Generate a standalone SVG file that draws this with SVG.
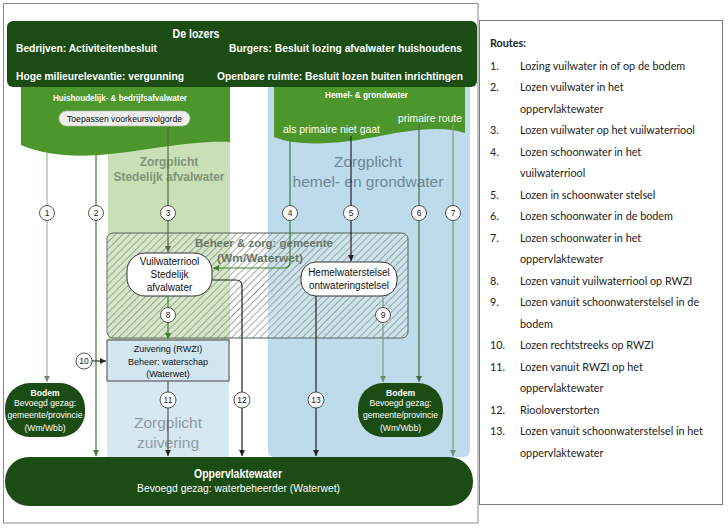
<svg xmlns="http://www.w3.org/2000/svg" width="728" height="528" viewBox="0 0 728 528">
<defs>
<style>
text{font-family:"Liberation Sans",Arial,sans-serif}
.hw{fill:#fff;font-weight:bold;font-size:11px}
.w{fill:#fff}
.lbl{font-size:10px;fill:#111;text-anchor:middle}
.zl{font-size:9px;fill:#111;text-anchor:middle}
.bd{font-size:8.6px;fill:#fff;text-anchor:middle}
.num{font-size:8.5px;fill:#222;text-anchor:middle}
.circ{fill:#fff;stroke:#444;stroke-width:0.9}
.rt{font-family:Lato,"Open Sans",sans-serif;font-size:10.8px;fill:#222}
.ln{fill:none;stroke-width:1.2}
.dk{fill:#1b4c14}
.zp{font-size:15.5px;text-anchor:middle}
</style>
<pattern id="hatch" width="5" height="5" patternUnits="userSpaceOnUse" patternTransform="rotate(45)">
<line x1="2.5" y1="0" x2="2.5" y2="5" stroke="#8c968c" stroke-width="0.8"/>
</pattern>
<marker id="aK" viewBox="0 0 6 6" refX="6" refY="3" markerWidth="6" markerHeight="6" orient="auto" markerUnits="userSpaceOnUse"><path d="M0,0L6,3L0,6z" fill="#222"/></marker>
<marker id="aG" viewBox="0 0 6 6" refX="6" refY="3" markerWidth="6" markerHeight="6" orient="auto" markerUnits="userSpaceOnUse"><path d="M0,0L6,3L0,6z" fill="#3f7f2f"/></marker>
<marker id="aL" viewBox="0 0 6 6" refX="6" refY="3" markerWidth="6" markerHeight="6" orient="auto" markerUnits="userSpaceOnUse"><path d="M0,0L6,3L0,6z" fill="#6f8f68"/></marker>
<marker id="aD" viewBox="0 0 6 6" refX="6" refY="3" markerWidth="6" markerHeight="6" orient="auto" markerUnits="userSpaceOnUse"><path d="M0,0L6,3L0,6z" fill="#4d6b45"/></marker>
</defs>

<rect x="0" y="0" width="728" height="528" fill="#fff"/>
<rect x="3.5" y="3.5" width="474.5" height="519.5" fill="#fff" stroke="#8a8a8a"/>

<!-- background zones -->
<g id="zone-stedelijk">
<rect x="108" y="120" width="122" height="220" fill="#c9dfb6"/>
<text x="169" y="166" font-size="12" font-weight="bold" fill="#80957a" text-anchor="middle">Zorgplicht</text>
<text x="169" y="181" font-size="12" font-weight="bold" fill="#80957a" text-anchor="middle" textLength="111" lengthAdjust="spacingAndGlyphs">Stedelijk afvalwater</text>
</g>
<g id="zone-hemel">
<rect x="268" y="80" width="202" height="377" rx="6" fill="#bddbea"/>
<text class="zp" x="368" y="166.5" fill="#6f8798">Zorgplicht</text>
<text class="zp" x="368" y="186.5" fill="#6f8798">hemel- en grondwater</text>
</g>
<g id="zone-zuivering">
<rect x="107" y="381" width="122" height="76" fill="#d6e9f3"/>
<text class="zp" x="168" y="428" fill="#8c9ba4">Zorgplicht</text>
<text class="zp" x="168" y="448" fill="#8c9ba4">zuivering</text>
</g>

<!-- lozers header -->
<g id="lozers">
<path d="M21,80 H230 V142 C190,140 140,152 100,155 C70,157 45,155 21,145 Z" fill="#4d962c"/>
<path d="M274,80 H465 V133 C445,126 415,129 380,136 C345,143 300,148 274,137 Z" fill="#4d962c"/>
<rect x="7" y="21" width="470" height="66" rx="6" class="dk"/>
<text x="196" y="38" fill="#fff" font-size="13" font-weight="bold" text-anchor="middle" textLength="47" lengthAdjust="spacingAndGlyphs">De lozers</text>
<text class="hw" x="16" y="51.5" textLength="141" lengthAdjust="spacingAndGlyphs">Bedrijven: Activiteitenbesluit</text>
<text class="hw" x="229" y="51.5" textLength="233" lengthAdjust="spacingAndGlyphs">Burgers: Besluit lozing afvalwater huishoudens</text>
<text class="hw" x="16" y="80" textLength="168" lengthAdjust="spacingAndGlyphs">Hoge milieurelevantie: vergunning</text>
<text class="hw" x="217" y="80" textLength="246" lengthAdjust="spacingAndGlyphs">Openbare ruimte: Besluit lozen buiten inrichtingen</text>
<text x="53" y="101" class="w" font-size="9" font-weight="bold" textLength="134" lengthAdjust="spacingAndGlyphs">Huishoudelijk- &amp; bedrijfsafvalwater</text>
<rect x="59" y="111" width="131" height="15" rx="7.5" fill="#eeeeee" stroke="#bbbbbb" stroke-width="0.6"/>
<text x="124.5" y="121.5" font-size="9" fill="#111" text-anchor="middle" textLength="115" lengthAdjust="spacingAndGlyphs">Toepassen voorkeursvolgorde</text>
<text x="366.5" y="97.5" class="w" font-size="9" font-weight="bold" text-anchor="middle" textLength="83" lengthAdjust="spacingAndGlyphs">Hemel- &amp; grondwater</text>
<text x="398" y="121.5" class="w" font-size="10.5" textLength="64" lengthAdjust="spacingAndGlyphs">primaire route</text>
<text x="283" y="133" class="w" font-size="10.5" textLength="97" lengthAdjust="spacingAndGlyphs">als primaire niet gaat</text>
</g>

<!-- beheer gemeente -->
<g id="beheer-gemeente">
<rect x="107" y="233" width="301" height="105" rx="6" fill="#ffffff" fill-opacity="0.25"/>
<rect x="107" y="233" width="301" height="105" rx="6" fill="url(#hatch)" stroke="#56645a" stroke-width="1"/>
<text x="264" y="247" font-size="11.5" font-weight="bold" fill="#6a7666" text-anchor="middle" textLength="138" lengthAdjust="spacingAndGlyphs">Beheer &amp; zorg: gemeente</text>
<text x="260" y="262" font-size="11.5" font-weight="bold" fill="#6a7666" text-anchor="middle" textLength="86" lengthAdjust="spacingAndGlyphs">(Wm/Waterwet)</text>
</g>

<g id="zuivering">
<rect x="107" y="340" width="122" height="41" fill="#d2e6f1" stroke="#444" stroke-width="1"/>
<text class="zl" x="168" y="351.5">Zuivering (RWZI)</text>
<text class="zl" x="168" y="364.5">Beheer: waterschap</text>
<text class="zl" x="168" y="376.5">(Waterwet)</text>
</g>

<g id="vuilwaterriool">
<rect x="127" y="253" width="85" height="43" rx="18" fill="#fff" stroke="#333" stroke-width="1"/>
<text class="lbl" x="169.5" y="264.5">Vuilwaterriool</text>
<text class="lbl" x="169.5" y="277.5">Stedelijk</text>
<text class="lbl" x="169.5" y="290.5">afvalwater</text>
</g>

<g id="hemelwaterstelsel">
<rect x="301" y="262" width="96" height="34" rx="15" fill="#fff" stroke="#333" stroke-width="1"/>
<text class="lbl" x="349" y="275.5">Hemelwaterstelsel</text>
<text class="lbl" x="349" y="288.5">ontwateringstelsel</text>
</g>

<g id="bodem-links">
<rect x="5" y="383" width="80" height="54" rx="25" class="dk"/>
<text class="bd" x="45" y="395.5" font-weight="bold">Bodem</text>
<text class="bd" x="45" y="405.5">Bevoegd gezag:</text>
<text class="bd" x="45" y="417.5">gemeente/provincie</text>
<text class="bd" x="45" y="430.5">(Wm/Wbb)</text>
</g>

<g id="bodem-rechts">
<rect x="358" y="383" width="85" height="54" rx="25" class="dk"/>
<text class="bd" x="400.5" y="395.5" font-weight="bold">Bodem</text>
<text class="bd" x="400.5" y="405.5">Bevoegd gezag:</text>
<text class="bd" x="400.5" y="417.5">gemeente/provincie</text>
<text class="bd" x="400.5" y="430.5">(Wm/Wbb)</text>
</g>

<g id="oppervlaktewater">
<rect x="5" y="457" width="468" height="49" rx="24" class="dk"/>
<text x="238" y="478" fill="#fff" font-size="12" font-weight="bold" text-anchor="middle" textLength="88" lengthAdjust="spacingAndGlyphs">Oppervlaktewater</text>
<text x="238.5" y="492" fill="#fff" font-size="11" text-anchor="middle" textLength="203" lengthAdjust="spacingAndGlyphs">Bevoegd gezag: waterbeheerder (Waterwet)</text>
</g>

<!-- connectors -->
<g id="connectors">
<path class="ln" d="M47,153 V382" stroke="#9cb894" marker-end="url(#aL)"/>
<path class="ln" d="M96,155 V456" stroke="#3f7f2f" marker-end="url(#aG)"/>
<path class="ln" d="M168,127 V252" stroke="#4d6b45" marker-end="url(#aD)"/>
<path class="ln" d="M290,140 V262 Q290,268 284,268 H213" stroke="#3f7f2f" marker-end="url(#aG)"/>
<path class="ln" d="M351,136 V261" stroke="#222" marker-end="url(#aK)"/>
<path class="ln" d="M419,124 V382" stroke="#4d6b45" marker-end="url(#aD)"/>
<path class="ln" d="M453,124 V456" stroke="#7f9b78" marker-end="url(#aL)"/>
<path class="ln" d="M168,296 V339" stroke="#3f7f2f" marker-end="url(#aG)"/>
<path class="ln" d="M383,296 V382" stroke="#7f9b78" marker-end="url(#aL)"/>
<path class="ln" d="M92,361 H106" stroke="#333" marker-end="url(#aK)"/>
<path class="ln" d="M168,381 V456" stroke="#555" marker-end="url(#aK)"/>
<path class="ln" d="M212,280 H236 Q242,280 242,286 V456" stroke="#222" marker-end="url(#aK)"/>
<path class="ln" d="M316,296 V456" stroke="#222" marker-end="url(#aK)"/>
</g>

<g id="route-labels">
<circle class="circ" cx="47" cy="213" r="7.5"/><text class="num" x="47" y="216">1</text>
<circle class="circ" cx="96" cy="213" r="7.5"/><text class="num" x="96" y="216">2</text>
<circle class="circ" cx="168" cy="213" r="7.5"/><text class="num" x="168" y="216">3</text>
<circle class="circ" cx="290" cy="213" r="7.5"/><text class="num" x="290" y="216">4</text>
<circle class="circ" cx="351" cy="213" r="7.5"/><text class="num" x="351" y="216">5</text>
<circle class="circ" cx="419" cy="213" r="7.5"/><text class="num" x="419" y="216">6</text>
<circle class="circ" cx="453" cy="213" r="7.5"/><text class="num" x="453" y="216">7</text>
<circle class="circ" cx="168" cy="315" r="7.5"/><text class="num" x="168" y="318">8</text>
<circle class="circ" cx="383" cy="315" r="7.5"/><text class="num" x="383" y="318">9</text>
<circle class="circ" cx="84" cy="361" r="8"/><text class="num" x="84" y="364">10</text>
<circle class="circ" cx="168" cy="400" r="8"/><text class="num" x="168" y="403">11</text>
<circle class="circ" cx="242" cy="400" r="8"/><text class="num" x="242" y="403">12</text>
<circle class="circ" cx="316" cy="400" r="8"/><text class="num" x="316" y="403">13</text>
</g>

<!-- routes legend -->
<g id="routes">
<rect x="479.5" y="20.5" width="243" height="484" fill="#fff" stroke="#7a7a7a"/>
<text class="rt" x="490" y="47" font-weight="bold">Routes:</text>
<text class="rt" x="490" y="69.5">1.</text><text class="rt" x="520" y="69.5">Lozing vuilwater in of op de bodem</text>
<text class="rt" x="490" y="91">2.</text><text class="rt" x="520" y="91">Lozen vuilwater in het</text>
<text class="rt" x="520" y="112.5">oppervlaktewater</text>
<text class="rt" x="490" y="134">3.</text><text class="rt" x="520" y="134">Lozen vuilwater op het vuilwaterriool</text>
<text class="rt" x="490" y="155.5">4.</text><text class="rt" x="520" y="155.5">Lozen schoonwater in het</text>
<text class="rt" x="520" y="177">vuilwaterriool</text>
<text class="rt" x="490" y="198.5">5.</text><text class="rt" x="520" y="198.5">Lozen in schoonwater stelsel</text>
<text class="rt" x="490" y="220">6.</text><text class="rt" x="520" y="220">Lozen schoonwater in de bodem</text>
<text class="rt" x="490" y="241.5">7.</text><text class="rt" x="520" y="241.5">Lozen schoonwater in het</text>
<text class="rt" x="520" y="263">oppervlaktewater</text>
<text class="rt" x="490" y="284.5">8.</text><text class="rt" x="520" y="284.5">Lozen vanuit vuilwaterriool op RWZI</text>
<text class="rt" x="490" y="306">9.</text><text class="rt" x="520" y="306">Lozen vanuit schoonwaterstelsel in de</text>
<text class="rt" x="520" y="327.5">bodem</text>
<text class="rt" x="490" y="349">10.</text><text class="rt" x="520" y="349">Lozen rechtstreeks op RWZI</text>
<text class="rt" x="490" y="370.5">11.</text><text class="rt" x="520" y="370.5">Lozen vanuit RWZI op het</text>
<text class="rt" x="520" y="392">oppervlaktewater</text>
<text class="rt" x="490" y="413.5">12.</text><text class="rt" x="520" y="413.5">Riooloverstorten</text>
<text class="rt" x="490" y="435">13.</text><text class="rt" x="520" y="435">Lozen vanuit schoonwaterstelsel in het</text>
<text class="rt" x="520" y="456.5">oppervlaktewater</text>
</g>
</svg>
